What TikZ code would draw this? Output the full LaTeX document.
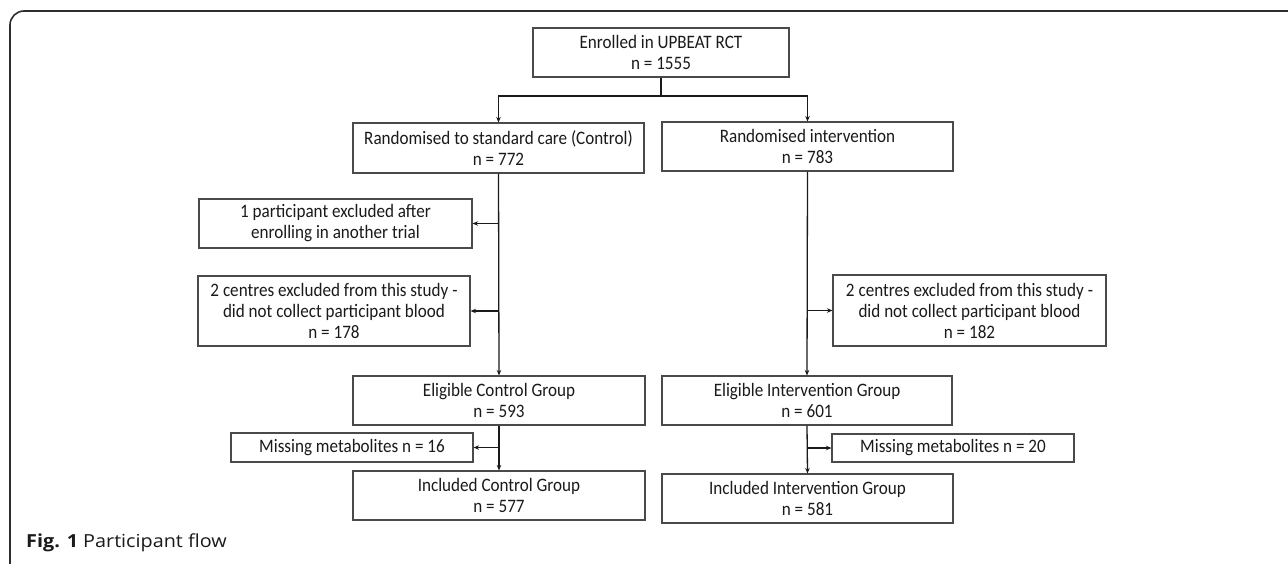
\documentclass[tikz,border=0pt]{standalone}
\usepackage{fontspec}
\setmainfont{Carlito}[FakeStretch=0.9]
\newfontfamily\capfont{Open Sans}[FakeStretch=1.1]
\usepackage{xcolor}
\usetikzlibrary{calc,arrows.meta}
\definecolor{bg}{HTML}{FFFFFF}
\definecolor{framec}{HTML}{2E2E2E}
\definecolor{edge}{HTML}{4A4A4A}
\definecolor{ink}{HTML}{1A1A1A}
\newcommand\boxfont{\fontsize{19}{21}\selectfont}
\tikzset{
  flowbox/.style={draw=edge, line width=1.1pt, align=center, inner sep=0pt, text=ink, font=\boxfont},
  link/.style={draw=ink, line width=1.3pt},
  arr/.style={link, -{Stealth[length=5.5pt,width=4.5pt]}},
  figcap/.style={text=ink, font=\capfont\fontsize{18}{20}\selectfont},
}
\begin{document}
\begin{tikzpicture}[x=1pt, y=-1pt]
  \useasboundingbox[fill=bg] (0,0) rectangle (1288,563);
  \draw[framec, line width=1.6pt, rounded corners=14pt] (10,580) -- (10,11) -- (1305,11) -- (1305,580);
  % top and randomisation
  \node[flowbox, minimum width=256pt, minimum height=49pt] (enrol) at (661,52.5) {Enrolled in UPBEAT RCT\\n = 1555};
  \node[flowbox, minimum width=291pt, minimum height=50pt] (ctrl) at (498.5,148) {Randomised to standard care (Control)\\n = 772};
  \node[flowbox, minimum width=291pt, minimum height=49pt] (intv) at (807.5,146.5) {Randomised intervention\\n = 783};
  % exclusions
  \node[flowbox, minimum width=273pt, minimum height=49pt] (exA) at (335.5,223.5) {1 participant excluded after\\enrolling in another trial};
  \node[flowbox, minimum width=272pt, minimum height=70pt] (exB) at (334,311) {2 centres excluded from this study -\\did not collect participant blood\\n = 178};
  \node[flowbox, minimum width=273pt, minimum height=71pt] (exC) at (969.5,310.5) {2 centres excluded from this study -\\did not collect participant blood\\n = 182};
  % eligible groups
  \node[flowbox, minimum width=292pt, minimum height=49pt] (eligC) at (499,400.5) {Eligible Control Group\\n = 593};
  \node[flowbox, minimum width=290pt, minimum height=49pt] (eligI) at (807,400.5) {Eligible Intervention Group\\n = 601};
  \node[flowbox, minimum width=242pt, minimum height=29pt] (missC) at (352,447.5) {Missing metabolites n = 16};
  \node[flowbox, minimum width=242pt, minimum height=28pt] (missI) at (953,448) {Missing metabolites n = 20};
  \node[flowbox, minimum width=292pt, minimum height=49pt] (inclC) at (499,495.5) {Included Control Group\\n = 577};
  \node[flowbox, minimum width=291pt, minimum height=49pt] (inclI) at (807.5,498.5) {Included Intervention Group\\n = 581};
  \node[figcap, anchor=base west, inner sep=0pt] (caption) at (26,547) {\textbf{Fig. 1} Participant flow};
  % connectors
  \coordinate (split) at (661,96);
  \draw[link] (enrol.south) -- (split);
  \draw[arr] (split) -| (ctrl.north);
  \draw[arr] (split) -| (intv.north);
  \draw[arr] (ctrl.south) -- (eligC.north);
  \draw[arr] (intv.south) -- (eligI.north);
  \draw[arr] (ctrl.south |- exA.east) -- (exA.east);
  \draw[arr] (ctrl.south |- exB.east) -- (exB.east);
  \draw[arr] (intv.south |- exC.west) -- (exC.west);
  \draw[arr] (eligC.south) -- (inclC.north);
  \draw[arr] (eligI.south) -- (inclI.north);
  \draw[arr] (eligC.south |- missC.east) -- (missC.east);
  \draw[arr] (eligI.south |- missI.west) -- (missI.west);
\end{tikzpicture}
\end{document}
